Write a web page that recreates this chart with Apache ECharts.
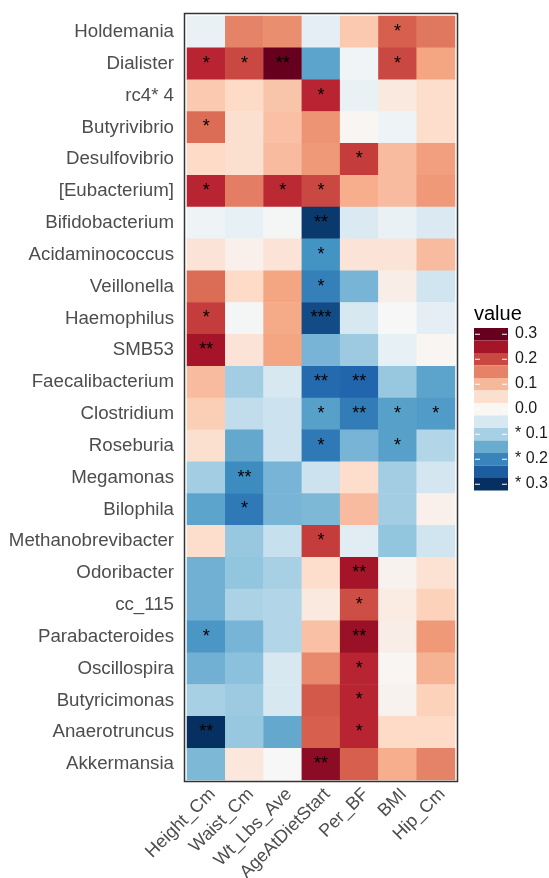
<!DOCTYPE html>
<html>
<head>
<meta charset="utf-8">
<script src="https://cdn.jsdelivr.net/npm/echarts@6/dist/echarts.min.js"></script>
<style>
  html, body { margin: 0; padding: 0; background: #fff; }
  #chart { width: 549px; height: 878px; }
</style>
</head>
<body>
<div id="chart"></div>
<script>
// columns (x) and genera (y, top to bottom)
const columns = ["Height_Cm", "Waist_Cm", "Wt_Lbs_Ave", "AgeAtDietStart", "Per_BF", "BMI", "Hip_Cm"];
const rows = ["Holdemania", "Dialister", "rc4* 4", "Butyrivibrio", "Desulfovibrio", "[Eubacterium]",
  "Bifidobacterium", "Acidaminococcus", "Veillonella", "Haemophilus", "SMB53", "Faecalibacterium",
  "Clostridium", "Roseburia", "Megamonas", "Bilophila", "Methanobrevibacter", "Odoribacter",
  "cc_115", "Parabacteroides", "Oscillospira", "Butyricimonas", "Anaerotruncus", "Akkermansia"];

// correlation values, one array per column (same order as rows)
const heightCm = [-0.02, 0.23, 0.08, 0.17, 0.06, 0.23, -0.015, 0.04, 0.17, 0.21, 0.25, 0.095,
  0.075, 0.05, -0.105, -0.16, 0.055, -0.145, -0.145, -0.175, -0.145, -0.10, -0.30, -0.135];
const waistCm = [0.15, 0.20, 0.06, 0.05, 0.05, 0.155, -0.025, 0.015, 0.06, -0.005, 0.04, -0.105,
  -0.075, -0.155, -0.19, -0.215, -0.115, -0.12, -0.095, -0.14, -0.125, -0.11, -0.115, 0.035];
const wtLbsAve = [0.14, 0.30, 0.085, 0.09, 0.095, 0.225, -0.005, 0.04, 0.12, 0.115, 0.12, -0.05,
  -0.065, -0.065, -0.14, -0.14, -0.07, -0.10, -0.09, -0.09, -0.05, -0.05, -0.155, 0.0];
const ageAtDietStart = [-0.03, -0.16, 0.23, 0.135, 0.13, 0.20, -0.29, -0.18, -0.205, -0.27, -0.14, -0.235,
  -0.165, -0.215, -0.065, -0.135, 0.21, 0.055, 0.03, 0.09, 0.145, 0.185, 0.18, 0.27];
const perBF = [0.08, -0.01, -0.02, 0.005, 0.21, 0.11, -0.045, 0.04, -0.14, -0.05, -0.11, -0.24,
  -0.21, -0.14, 0.055, 0.095, -0.035, 0.25, 0.195, 0.26, 0.23, 0.23, 0.23, 0.18];
const bmi = [0.18, 0.20, 0.03, -0.015, 0.095, 0.095, -0.02, 0.04, 0.02, 0.0, -0.025, -0.115,
  -0.165, -0.165, -0.105, -0.105, -0.12, 0.01, 0.025, 0.02, 0.005, 0.01, 0.06, 0.11];
const hipCm = [0.16, 0.12, 0.055, 0.055, 0.125, 0.13, -0.045, 0.095, -0.06, -0.03, 0.005, -0.16,
  -0.17, -0.09, -0.055, 0.015, -0.06, 0.045, 0.07, 0.13, 0.105, 0.07, 0.06, 0.15];

// significance stars, one array per column
const heightStars = ["", "*", "", "*", "", "*", "", "", "", "*", "**", "",
  "", "", "", "", "", "", "", "*", "", "", "**", ""];
const waistStars = ["", "*", "", "", "", "", "", "", "", "", "", "",
  "", "", "**", "*", "", "", "", "", "", "", "", ""];
const wtStars = ["", "**", "", "", "", "*", "", "", "", "", "", "",
  "", "", "", "", "", "", "", "", "", "", "", ""];
const ageStars = ["", "", "*", "", "", "*", "**", "*", "*", "***", "", "**",
  "*", "*", "", "", "*", "", "", "", "", "", "", "**"];
const perBFStars = ["", "", "", "", "*", "", "", "", "", "", "", "**",
  "**", "", "", "", "", "**", "*", "**", "*", "*", "*", ""];
const bmiStars = ["*", "*", "", "", "", "", "", "", "", "", "", "",
  "*", "*", "", "", "", "", "", "", "", "", "", ""];
const hipStars = ["", "", "", "", "", "", "", "", "", "", "", "",
  "*", "", "", "", "", "", "", "", "", "", "", ""];

// legend tick labels, top to bottom
const legendLabels = ["0.3", "0.2", "0.1", "0.0", "* 0.1", "* 0.2", "* 0.3"];

const valueCols = [heightCm, waistCm, wtLbsAve, ageAtDietStart, perBF, bmi, hipCm];
const starCols = [heightStars, waistStars, wtStars, ageStars, perBFStars, bmiStars, hipStars];

let cells = [];
valueCols.forEach((col, i) => {
  col.forEach((v, j) => {
    cells.push({ value: [i, j, v], star: starCols[i][j] });
  });
});

// RdBu, blue (low) -> red (high)
const rdbu = ["#053061", "#2166ac", "#4393c3", "#92c5de", "#d1e5f0", "#f7f7f7",
  "#fddbc7", "#f4a582", "#d6604d", "#b2182b", "#67001f"];
// stepped colours shown in the legend bar (low -> high)
const stepColors = ["#053061", "#1c5d9f", "#3884bb", "#6aacd0", "#a7d0e4", "#d7e8f1", "#f9f6f4",
  "#fce0cf", "#f7b799", "#e58267", "#ca4842", "#a51429", "#67001f"];

let pieces = stepColors.map((c, k) => {
  let center = (k - 6) * 0.05;
  return { min: center - 0.025, max: center + 0.025, color: c };
});

const font = "'Liberation Sans', Arial, sans-serif";
const legTop = 328, legLeft = 474, stepH = 12.5;

// legend labels and the small white dashes inside the bar
let legendBits = [];
legendLabels.forEach((t, k) => {
  let y = legTop + (2 * k + 0.5) * stepH;
  legendBits.push({ type: "text", x: 515, y: y - 1,
    style: { text: t, fontSize: 16, fill: "#1a1a1a", fontFamily: font, verticalAlign: "middle" } });
  legendBits.push({ type: "line", shape: { x1: legLeft + 1, y1: y, x2: legLeft + 6, y2: y },
    style: { stroke: "#fff", lineWidth: 1 }, z: 100 });
  legendBits.push({ type: "line", shape: { x1: legLeft + 28, y1: y, x2: legLeft + 33, y2: y },
    style: { stroke: "#fff", lineWidth: 1 }, z: 100 });
});

let myChart = echarts.init(document.getElementById("chart"));
myChart.setOption({
  animation: false,
  textStyle: { fontFamily: font },
  grid: { left: 187, right: 94, top: 16, bottom: 98, outerBoundsMode: "none", containLabel: false },
  xAxis: {
    type: "category",
    data: columns,
    offset: 2,
    axisLine: { show: false },
    axisTick: { length: 4, lineStyle: { color: "#333" } },
    axisLabel: { rotate: 45, fontSize: 18, color: "#4d4d4d", margin: 3, interval: 0,
      align: "right", verticalAlign: "top" },
    splitLine: { show: false },
  },
  yAxis: {
    type: "category",
    data: rows,
    inverse: true,
    offset: 3,
    axisLine: { show: false },
    axisTick: { length: 4, lineStyle: { color: "#333" } },
    axisLabel: { fontSize: 18.7, color: "#4d4d4d", margin: 10, interval: 0 },
    splitLine: { show: false },
  },
  visualMap: [
    {
      type: "continuous",
      show: false,
      seriesIndex: 0,
      dimension: 2,
      min: -0.3,
      max: 0.3,
      inRange: { color: rdbu },
    },
    {
      type: "piecewise",
      seriesIndex: 1,
      orient: "vertical",
      left: legLeft,
      top: legTop,
      padding: 0,
      itemGap: 0,
      itemWidth: 34,
      itemHeight: stepH,
      itemSymbol: "rect",
      showLabel: false,
      hoverLink: false,
      selectedMode: false,
      pieces: pieces,
    },
  ],
  graphic: [
    {
      type: "rect",
      shape: { x: 184.5, y: 13.5, width: 273, height: 768 },
      style: { fill: "none", stroke: "#333", lineWidth: 1.5 },
      z: 100,
    },
    {
      type: "text",
      left: 474,
      top: 304,
      style: { text: "value", fontSize: 20, fill: "#000", fontFamily: font },
    },
  ].concat(legendBits),
  series: [
    {
      type: "heatmap",
      data: cells,
      label: {
        show: true,
        fontSize: 18,
        color: "#000",
        formatter: (p) => p.data.star,
      },
      emphasis: { disabled: true },
    },
    {
      type: "heatmap",
      data: [],
    },
  ],
});
</script>
</body>
</html>
